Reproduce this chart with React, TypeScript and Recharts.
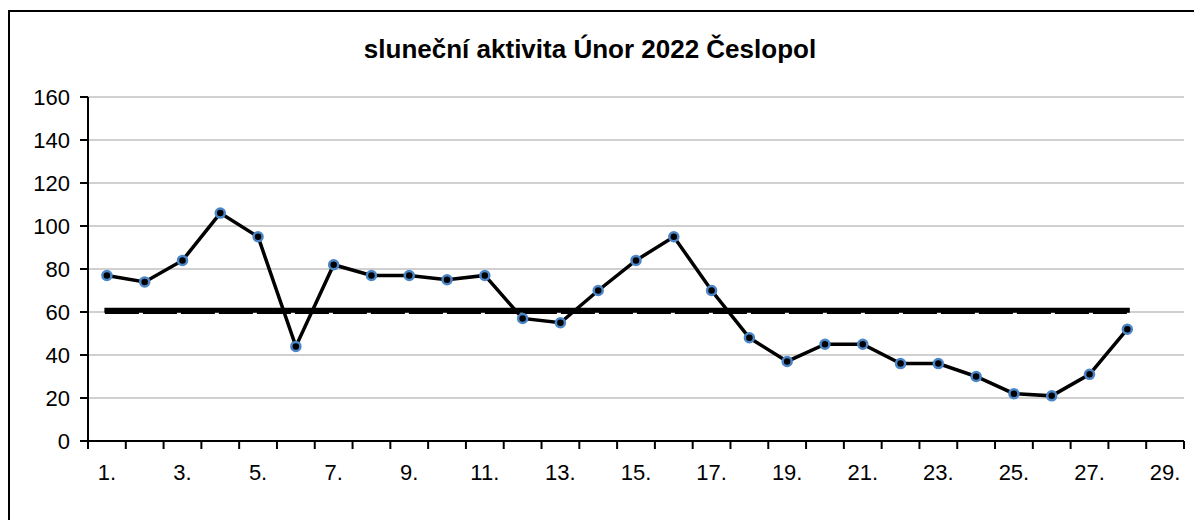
import React from "react";
import {CartesianGrid, Line, LineChart, XAxis, YAxis} from "recharts";

// days of February, slot 29 stays empty
const days = [1, 2, 3, 4, 5, 6, 7, 8, 9, 10, 11, 12, 13, 14, 15, 16, 17, 18, 19, 20, 21, 22, 23, 24, 25, 26, 27, 28, 29];
const activity = [77, 74, 84, 106, 95, 44, 82, 77, 77, 75, 77, 57, 55, 70, 84, 95, 70, 48, 37, 45, 45, 36, 36, 30, 22, 21, 31, 52, null];
const monthAverage = [60.8, 60.8, 60.8, 60.8, 60.8, 60.8, 60.8, 60.8, 60.8, 60.8, 60.8, 60.8, 60.8, 60.8, 60.8, 60.8, 60.8, 60.8, 60.8, 60.8, 60.8, 60.8, 60.8, 60.8, 60.8, 60.8, 60.8, 60.8, null];
const baseline = [60, 60, 60, 60, 60, 60, 60, 60, 60, 60, 60, 60, 60, 60, 60, 60, 60, 60, 60, 60, 60, 60, 60, 60, 60, 60, 60, 60, null];

const yTicks = [0, 20, 40, 60, 80, 100, 120, 140, 160];
const labelTicks = [1, 3, 5, 7, 9, 11, 13, 15, 17, 19, 21, 23, 25, 27, 29];
const boundTicks = [0.5, 1.5, 2.5, 3.5, 4.5, 5.5, 6.5, 7.5, 8.5, 9.5, 10.5, 11.5, 12.5, 13.5, 14.5, 15.5, 16.5, 17.5, 18.5, 19.5, 20.5, 21.5, 22.5, 23.5, 24.5, 25.5, 26.5, 27.5, 28.5, 29.5];

const data = days.map((day, i) => ({
    day,
    activity: activity[i],
    avg: monthAverage[i],
    base: baseline[i],
}));

const font = "'Liberation Sans', Arial, sans-serif";

export default function App() {
    return (
        <div style={{
            position: "relative",
            width: 1192,
            height: 508,
            marginTop: 2,
            borderTop: "2px solid #000",
            borderLeft: "2px solid #000",
            fontFamily: font,
        }}>
            <div style={{
                position: "absolute",
                left: 0,
                width: 1160,
                top: 24,
                textAlign: "center",
                fontSize: 26,
                lineHeight: "26px",
                fontWeight: "bold",
                color: "#000",
            }}>
                sluneční aktivita Únor 2022 Česlopol
            </div>
            <LineChart width={1192}
                       height={508}
                       data={data}
                       margin={{top: 85, right: 18, bottom: 38, left: 18}}
                       style={{fontFamily: font}}
            >
                <CartesianGrid vertical={false}
                               stroke="#c0c0c0"
                               strokeWidth={1.5}
                               xAxisId="lab"
                               yAxisId="left"
                />
                <XAxis xAxisId="bounds"
                       type="number"
                       dataKey="day"
                       domain={[0.5, 29.5]}
                       ticks={boundTicks}
                       tickFormatter={() => ""}
                       tickSize={8}
                       height={1}
                       axisLine={{stroke: "#000", strokeWidth: 2}}
                       tickLine={{stroke: "#000", strokeWidth: 2}}
                />
                <XAxis xAxisId="lab"
                       type="number"
                       dataKey="day"
                       domain={[0.5, 29.5]}
                       ticks={labelTicks}
                       tickFormatter={(v) => `${v}.`}
                       tickSize={0}
                       tickMargin={22}
                       height={40}
                       axisLine={false}
                       tickLine={false}
                       tick={{fill: "#000", fontSize: 22}}
                />
                <YAxis yAxisId="left"
                       domain={[0, 160]}
                       ticks={yTicks}
                       width={60}
                       tickSize={8}
                       tickMargin={10}
                       axisLine={{stroke: "#000", strokeWidth: 2}}
                       tickLine={{stroke: "#000", strokeWidth: 2}}
                       tick={{fill: "#000", fontSize: 22}}
                />
                <YAxis yAxisId="right"
                       orientation="right"
                       domain={[0, 160]}
                       width={0}
                       tick={false}
                       tickLine={false}
                       axisLine={{stroke: "#808080", strokeWidth: 2}}
                />
                <Line xAxisId="lab" yAxisId="left"
                      dataKey="base"
                      stroke="#000"
                      strokeWidth={4}
                      strokeDasharray="30 8"
                      strokeLinecap="square"
                      dot={false}
                      isAnimationActive={false}
                />
                <Line xAxisId="lab" yAxisId="left"
                      dataKey="avg"
                      stroke="#000"
                      strokeWidth={5}
                      strokeLinecap="square"
                      dot={false}
                      isAnimationActive={false}
                />
                <Line xAxisId="lab" yAxisId="left"
                      dataKey="activity"
                      stroke="#000"
                      strokeWidth={3.5}
                      dot={{r: 4.5, fill: "#000", stroke: "#4a86c8", strokeWidth: 2.5}}
                      isAnimationActive={false}
                />
            </LineChart>
        </div>
    );
}
